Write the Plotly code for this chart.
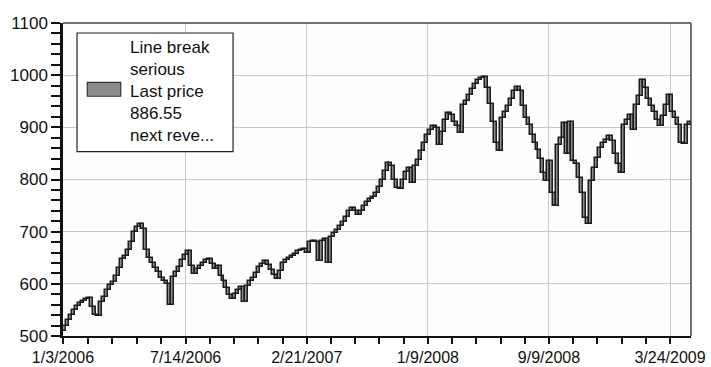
import numpy as np
import plotly.graph_objects as go

# ---------------- data ----------------
first_open = 510
closes = [
    520, 530, 540, 550, 557, 563, 567, 570, 572, 555,
    540, 538, 565, 575, 588, 597, 603, 615, 630, 648,
    653, 665, 680, 699, 708, 714, 705, 665, 650, 640,
    630, 622, 612, 605, 600, 560, 613, 622, 632, 645,
    655, 663, 634, 618, 628, 634, 640, 645, 647, 638,
    628, 634, 615, 606, 592, 578, 571, 580, 588, 594,
    565, 595, 606, 612, 620, 632, 638, 643, 637, 627,
    617, 609, 625, 640, 645, 650, 654, 658, 662, 665,
    667, 660, 680, 682, 680, 643, 682, 685, 640, 689,
    698, 703, 710, 718, 728, 740, 746, 740, 731, 740,
    750, 756, 762, 767, 775, 786, 800, 816, 832, 825,
    800, 784, 781, 800, 815, 822, 794, 825, 838, 855,
    870, 886, 895, 902, 898, 867, 892, 915, 927, 924,
    911, 902, 889, 943, 950, 962, 974, 983, 990, 995,
    997, 975, 945, 911, 870, 854, 918, 930, 940, 955,
    969, 978, 970, 940, 918, 905, 886, 870, 857,
    840, 813, 797, 835, 775, 749, 867, 880, 908, 848,
    911, 835, 829, 803, 775, 727, 714, 797, 822, 841,
    860, 870, 876, 883, 874, 848, 829, 813, 905, 915,
    924, 895, 943, 960, 991, 975, 955, 940, 930, 915,
    902, 921, 943, 962, 930, 918, 905, 870, 868, 905,
    911,
]
tick_labels = ["1/3/2006", "7/14/2006", "2/21/2007", "1/9/2008", "9/9/2008", "3/24/2009"]
tick_bricks = [0, 41, 81.5, 122, 162.5, 203]
legend_lines = ["Line break", "serious", "Last price", "886.55", "next reve..."]

# ---------------- figure ----------------
n = len(closes)
opens = [first_open] + closes[:-1]
xpos = np.arange(n) + 0.5
heights = np.array(closes) - np.array(opens)

FILL = "#8c8c8c"
EDGE = "#1c1c1c"
FONT = "Liberation Sans, Arial, sans-serif"

fig = go.Figure(
    go.Bar(
        x=xpos,
        y=heights,
        base=opens,
        width=1,
        marker=dict(color=FILL, line=dict(color=EDGE, width=1.5)),
        showlegend=False,
        hoverinfo="skip",
    )
)

# minor x ticks: 4 between each pair of labelled ticks
minor_x = []
for a, b in zip(tick_bricks[:-1], tick_bricks[1:]):
    minor_x.extend(list(np.linspace(a, b, 6)[1:-1]))

fig.update_layout(
    width=711,
    height=367,
    template="none",
    margin=dict(l=63, r=20, t=23, b=31),
    paper_bgcolor="white",
    plot_bgcolor="#fdfdfd",
    bargap=0,
    font=dict(family=FONT, size=17, color="#111111"),
    showlegend=False,
    xaxis=dict(
        range=[0, n],
        tickmode="array",
        tickvals=tick_bricks,
        ticktext=tick_labels,
        ticks="outside",
        ticklen=6,
        tickwidth=2,
        tickcolor="#111111",
        showgrid=True,
        gridcolor="#c8c8c8",
        gridwidth=1,
        showline=True,
        linecolor="#111111",
        linewidth=2,
        zeroline=False,
        automargin=False,
        tickfont=dict(size=16),
        minor=dict(
            tickmode="array",
            tickvals=minor_x,
            ticks="outside",
            ticklen=6,
            tickwidth=2,
            tickcolor="#111111",
            showgrid=False,
        ),
    ),
    yaxis=dict(
        range=[500, 1100],
        tickmode="linear",
        tick0=500,
        dtick=100,
        ticks="outside",
        ticklen=9,
        tickwidth=2,
        tickcolor="#111111",
        showgrid=True,
        gridcolor="#c8c8c8",
        gridwidth=1,
        showline=True,
        linecolor="#111111",
        linewidth=2.5,
        zeroline=False,
        automargin=False,
        tickfont=dict(size=17),
        minor=dict(
            tick0=500,
            dtick=20,
            ticks="outside",
            ticklen=9,
            tickwidth=2,
            tickcolor="#111111",
            showgrid=False,
        ),
    ),
)

# top / right frame of plot area
fig.add_shape(type="line", xref="paper", yref="paper", x0=0, x1=1, y0=1, y1=1,
              line=dict(color="#444444", width=1.5))
fig.add_shape(type="line", xref="paper", yref="paper", x0=1, x1=1, y0=0, y1=1,
              line=dict(color="#444444", width=1.5))

# legend box drawn manually
fig.add_shape(type="rect", xref="paper", yref="paper",
              x0=0.0223, x1=0.2708, y0=0.589, y1=0.968,
              fillcolor="white", line=dict(color="#222222", width=1.2), layer="above")
fig.add_shape(type="rect", xref="paper", yref="paper",
              x0=0.0387, x1=0.0919, y0=0.766, y1=0.810,
              fillcolor=FILL, line=dict(color="#333333", width=1.2), layer="above")
fig.add_annotation(
    xref="paper", yref="paper", x=0.1035, y=0.781,
    xanchor="left", yanchor="middle", align="left",
    text="<br>".join(legend_lines), showarrow=False,
    font=dict(family=FONT, size=17, color="#111111"),
)

fig.write_html(
    "out.html",
    config={"displayModeBar": False},
    post_script="document.body.style.margin='0px';document.body.style.overflow='hidden';",
)
